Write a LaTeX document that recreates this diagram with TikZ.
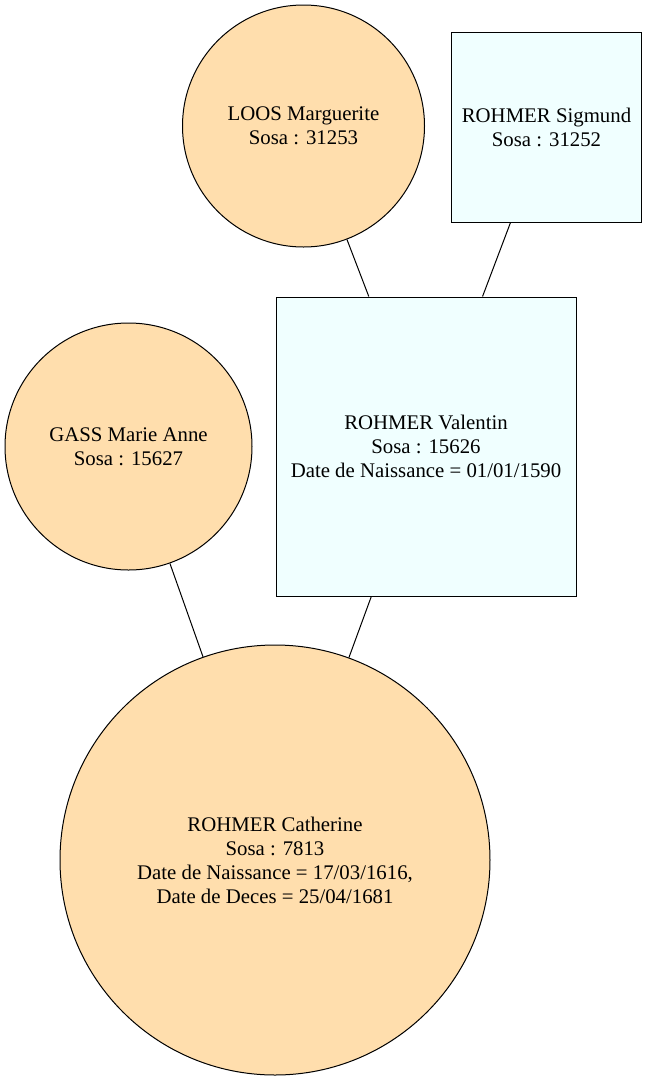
\documentclass[tikz,border=0pt]{standalone}
\usepackage{fontspec}
\setmainfont{Liberation Serif}
\usetikzlibrary{shapes}
\usetikzlibrary{positioning}
\tikzset{
    nodef/.style = {circle, line width=1pt, draw=black, align=center, fill=navajo, inner sep=0pt, text=black},
    nodem/.style = {rectangle, line width=1pt, draw=black, align=center, fill=azur, inner sep=0pt, text=black},
    edgen/.style = {-, line width=1pt, black},
    every picture/.style={font issue=\rmfamily\fontsize{20.8}{24}},
    font issue/.style={execute at begin picture={#1\selectfont}}
}
\definecolor{navajo}{HTML}{FFDEAD}
\definecolor{azur}{HTML}{F0FFFF}

\begin{document}
\begin{tikzpicture}[x=1pt, y=-1pt]
\path[use as bounding box] (0,0) rectangle (647,1082);
\node[nodef, minimum size=242pt] at (303.5, 126.0) (loos) {LOOS Marguerite\\Sosa : 31253};
\node[nodem, minimum width=190pt, minimum height=190pt] at (546.5, 127.0) (sigmund) {ROHMER Sigmund\\Sosa : 31252};
\node[nodem, minimum width=300pt, minimum height=299pt] at (426.0, 446.5) (valentin) {ROHMER Valentin\\Sosa : 15626\\Date de Naissance = 01/01/1590};
\node[nodef, minimum size=247pt] at (128.5, 446.5) (gass) {GASS Marie Anne\\Sosa : 15627};
\node[nodef, minimum size=430pt] at (275.0, 860.0) (catherine) {ROHMER Catherine\\Sosa : 7813\\Date de Naissance = 17/03/1616,\\Date de Deces = 25/04/1681};
%
\draw[edgen] (loos) edge (valentin);
\draw[edgen] (sigmund) edge (valentin);
\draw[edgen] (gass) edge (catherine);
\draw[edgen] (valentin) edge (catherine);
\end{tikzpicture}
\end{document}
